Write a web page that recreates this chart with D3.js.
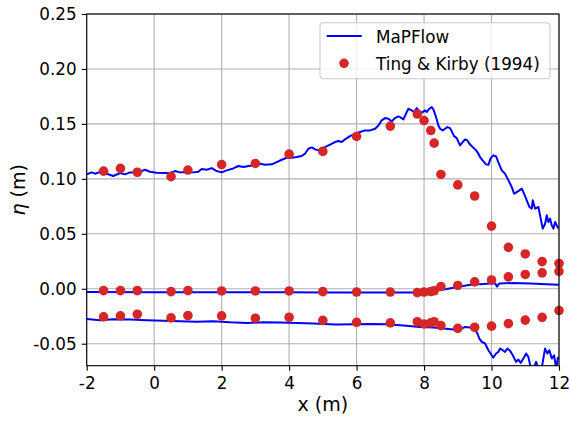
<!DOCTYPE html>
<html>
<head>
<meta charset="utf-8">
<script src="https://cdn.jsdelivr.net/npm/d3@7"></script>
<style>
  html, body { margin: 0; padding: 0; background: #fff; }
  svg { display: block; }
  text { font-family: "DejaVu Sans", sans-serif; fill: #000; }
</style>
</head>
<body>
<svg id="chart" width="570" height="423"></svg>
<script>
// Measurement stations along the flume (m)
const gaugeX = [-1.5, -1, -0.5, 0.5, 1, 2, 3, 4, 5, 6, 7, 7.8, 8.0, 8.2, 8.3, 8.5, 9, 9.5, 10, 10.5, 11, 11.5, 12];

// Ting & Kirby (1994): wave crest, mean water level and trough (m)
const expCrest  = [0.107, 0.1095, 0.106, 0.102, 0.108, 0.113, 0.114, 0.1225, 0.125, 0.1386, 0.148, 0.159, 0.153, 0.144, 0.1325, 0.104, 0.0945, 0.0844, 0.057, 0.0377, 0.0317, 0.0247, 0.023];
const expMean   = [-0.0017, -0.0017, -0.0017, -0.0026, -0.0017, -0.002, -0.002, -0.002, -0.0026, -0.003, -0.003, -0.0035, -0.003, -0.0025, -0.0018, 0.002, 0.003, 0.0063, 0.008, 0.0108, 0.013, 0.0145, 0.0158];
const expTrough = [-0.0256, -0.0247, -0.0232, -0.0265, -0.0244, -0.0247, -0.0268, -0.0259, -0.0288, -0.0305, -0.031, -0.030, -0.032, -0.031, -0.030, -0.0335, -0.036, -0.035, -0.034, -0.0317, -0.0285, -0.026, -0.0198];

// MaPFlow envelopes: [x (m), eta (m)]
const modelCrest = [
  [-2.00,0.1041],[-1.853,0.1059],[-1.754,0.1047],[-1.606,0.1062],[-1.408,0.1047],[-1.210,0.1026],[-1.013,0.1053],
  [-0.865,0.1041],[-0.716,0.1059],[-0.469,0.1059],[-0.272,0.1083],[-0.123,0.1065],[0.074,0.1056],[0.272,0.1053],
  [0.470,0.1053],[0.618,0.1071],[0.766,0.1059],[0.964,0.1062],[1.161,0.1059],[1.310,0.1065],[1.408,0.1089],
  [1.557,0.1083],[1.705,0.1098],[1.853,0.1071],[2.001,0.1059],[2.150,0.1077],[2.347,0.1095],[2.496,0.1117],
  [2.644,0.1108],[2.842,0.1120],[2.990,0.1123],[3.138,0.1138],[3.286,0.1129],[3.484,0.1132],[3.632,0.1153],
  [3.780,0.1174],[3.929,0.1192],[4.077,0.1192],[4.225,0.1198],[4.373,0.1208],[4.472,0.1229],[4.571,0.1274],
  [4.670,0.1286],[4.769,0.1268],[4.868,0.1259],[4.966,0.1280],[5.065,0.1289],[5.213,0.1311],[5.361,0.1335],
  [5.460,0.1344],[5.559,0.1335],[5.658,0.1359],[5.806,0.1389],[5.955,0.1411],[6.103,0.1426],[6.251,0.1441],
  [6.399,0.1441],[6.548,0.1456],[6.646,0.1486],[6.745,0.1532],[6.844,0.1553],[6.943,0.1547],[7.042,0.1523],
  [7.140,0.1553],[7.239,0.1568],[7.289,0.1562],[7.388,0.1541],[7.486,0.1608],[7.536,0.1638],[7.635,0.1623],
  [7.704,0.1608],[7.783,0.1644],[7.862,0.1614],[7.931,0.1602],[8.030,0.1623],[8.079,0.1608],[8.158,0.1638],
  [8.227,0.1653],[8.277,0.1632],[8.356,0.1562],[8.425,0.1486],[8.475,0.1456],[8.554,0.1441],[8.623,0.1456],
  [8.692,0.1471],[8.771,0.1462],[8.821,0.1432],[8.890,0.1389],[8.969,0.1371],[9.067,0.1305],[9.146,0.1335],
  [9.216,0.1359],[9.285,0.1350],[9.344,0.1320],[9.443,0.1289],[9.542,0.1259],[9.611,0.1229],[9.660,0.1198],
  [9.759,0.1159],[9.838,0.1132],[9.907,0.1127],[9.972,0.1186],[10.055,0.1214],[10.135,0.1205],[10.203,0.1150],
  [10.303,0.1077],[10.402,0.1047],[10.501,0.0986],[10.599,0.0926],[10.668,0.0865],[10.747,0.0880],[10.826,0.0895],
  [10.896,0.0911],[10.965,0.0865],[11.044,0.0805],[11.123,0.0744],[11.192,0.0729],[11.222,0.0805],[11.291,0.0729],
  [11.390,0.0744],[11.439,0.0668],[11.489,0.0592],[11.519,0.0547],[11.588,0.0592],[11.637,0.0668],[11.686,0.0608],
  [11.736,0.0638],[11.785,0.0577],[11.834,0.0547],[11.884,0.0608],[11.933,0.0577],[11.983,0.0547]
];

const modelMean = [
  [-2,-0.0030],[0,-0.0031],[2,-0.0031],[4,-0.0032],[5,-0.0033],[6,-0.0033],[7,-0.0034],[7.78,-0.0033],
  [8.18,-0.0025],[8.67,-0.0002],[9.07,0.0020],[9.46,0.0041],[9.53,0.0055],[9.56,0.0059],[9.62,0.0043],
  [9.66,0.0041],[10.05,0.0050],[10.12,0.0045],[10.16,0.0020],[10.22,0.0045],[10.25,0.0047],[10.65,0.0053],
  [11.14,0.0049],[11.64,0.0042],[12,0.0036]
];

const modelTrough = [
  [-2.0,-0.0274],[-1.606,-0.0286],[-1.211,-0.0277],[-0.716,-0.0280],[-0.221,-0.0286],[0.271,-0.0292],
  [0.766,-0.0295],[1.261,-0.0301],[1.753,-0.0295],[2.248,-0.0305],[2.744,-0.0311],[3.236,-0.0305],
  [3.731,-0.0308],[4.226,-0.0311],[4.718,-0.0317],[5.213,-0.0323],[5.412,-0.0326],[5.904,-0.0323],
  [6.399,-0.0320],[6.894,-0.0323],[7.386,-0.0335],[7.882,-0.0347],[8.276,-0.0353],[8.572,-0.0362],
  [8.869,-0.0371],[9.017,-0.0377],[9.216,-0.0347],[9.364,-0.0353],[9.512,-0.0371],[9.580,-0.0407],
  [9.640,-0.0453],[9.711,-0.0483],[9.809,-0.0498],[9.907,-0.0559],[10.007,-0.0605],[10.055,-0.0626],
  [10.135,-0.0589],[10.203,-0.0574],[10.253,-0.0544],[10.333,-0.0559],[10.401,-0.0574],[10.470,-0.0544],
  [10.550,-0.0565],[10.630,-0.0605],[10.728,-0.0665],[10.796,-0.0644],[10.867,-0.0674],[10.944,-0.0635],
  [11.024,-0.0589],[11.092,-0.0620],[11.164,-0.0720],[11.232,-0.0730],[11.321,-0.0665],[11.389,-0.0720],
  [11.489,-0.0720],[11.587,-0.0544],[11.656,-0.0589],[11.715,-0.0559],[11.786,-0.0635],[11.854,-0.0605],
  [11.914,-0.0720],[11.973,-0.0620]
];

// Axis ticks
const xTicks = [-2, 0, 2, 4, 6, 8, 10, 12];
const yTicks = [-0.05, 0.00, 0.05, 0.10, 0.15, 0.20, 0.25];
const seriesNames = ["MaPFlow", "Ting & Kirby (1994)"];

const width = 570, height = 423;
const margin = { left: 86.7, right: 570 - 559, top: 14, bottom: 423 - 365.7 };
const svg = d3.select("#chart");

const x = d3.scaleLinear().domain([-2, 12]).range([margin.left, width - margin.right]);
const y = d3.scaleLinear().domain([-0.07, 0.25]).range([height - margin.bottom, margin.top]);

const lineBlue = "#0000ff";
const dotRed = "#d62728";

// Grid
const grid = svg.append("g");
grid.selectAll("line.gx").data(xTicks).join("line")
  .attr("x1", d => x(d)).attr("x2", d => x(d))
  .attr("y1", y.range()[0]).attr("y2", y.range()[1])
  .attr("stroke", "#b0b0b0").attr("stroke-width", 1.1);
grid.selectAll("line.gy").data(yTicks).join("line")
  .attr("y1", d => y(d)).attr("y2", d => y(d))
  .attr("x1", x.range()[0]).attr("x2", x.range()[1])
  .attr("stroke", "#b0b0b0").attr("stroke-width", 1.1);

// Plot area clip
svg.append("clipPath").attr("id", "plotClip").append("rect")
  .attr("x", x.range()[0]).attr("y", y.range()[1])
  .attr("width", x.range()[1] - x.range()[0])
  .attr("height", y.range()[0] - y.range()[1]);

const line = d3.line().x(d => x(d[0])).y(d => y(d[1]));
const plot = svg.append("g").attr("clip-path", "url(#plotClip)");
[modelCrest, modelMean, modelTrough].forEach(s => {
  plot.append("path").datum(s).attr("d", line)
    .attr("fill", "none").attr("stroke", lineBlue)
    .attr("stroke-width", 2).attr("stroke-linejoin", "round");
});

// Measurements
const dots = svg.append("g");
[expCrest, expMean, expTrough].forEach(vals => {
  dots.selectAll(null).data(gaugeX.map((gx, i) => [gx, vals[i]])).join("circle")
    .attr("cx", d => x(d[0])).attr("cy", d => y(d[1]))
    .attr("r", 4.8).attr("fill", dotRed);
});

// Axes
const xAxis = svg.append("g").attr("transform", `translate(0,${y.range()[0]})`)
  .call(d3.axisBottom(x).tickValues(xTicks).tickFormat(d3.format("d")).tickSize(5).tickPadding(6).tickSizeOuter(0));
const yAxis = svg.append("g").attr("transform", `translate(${x.range()[0]},0)`)
  .call(d3.axisLeft(y).tickValues(yTicks).tickFormat(d3.format(".2f")).tickSize(5).tickPadding(5).tickSizeOuter(0));
[xAxis, yAxis].forEach(a => {
  a.select(".domain").remove();
  a.selectAll(".tick line").attr("stroke", "#000").attr("stroke-width", 1.1);
  a.selectAll(".tick text").attr("font-size", 16.8).attr("font-family", "DejaVu Sans").attr("fill", "#000");
});
xAxis.selectAll(".tick text").text(d => d < 0 ? "-" + Math.abs(d) : d);
yAxis.selectAll(".tick text").text(d => d < 0 ? "-" + d3.format(".2f")(Math.abs(d)) : d3.format(".2f")(d));

// Frame
svg.append("rect")
  .attr("x", x.range()[0]).attr("y", y.range()[1])
  .attr("width", x.range()[1] - x.range()[0])
  .attr("height", y.range()[0] - y.range()[1])
  .attr("fill", "none").attr("stroke", "#000").attr("stroke-width", 1.1);

// Axis titles
svg.append("text").attr("x", (x.range()[0] + x.range()[1]) / 2).attr("y", 411)
  .attr("text-anchor", "middle").attr("font-size", 19).text("x (m)");
const yl = svg.append("text")
  .attr("transform", `translate(25,${(y.range()[0] + y.range()[1]) / 2}) rotate(-90)`)
  .attr("text-anchor", "middle").attr("font-size", 19);
yl.append("tspan").attr("font-style", "italic").text("η");
yl.append("tspan").text(" (m)");

// Legend
const lg = svg.append("g");
lg.append("rect").attr("x", 320).attr("y", 22.7).attr("width", 230).attr("height", 56)
  .attr("rx", 3.5).attr("fill", "#fff").attr("fill-opacity", 0.8)
  .attr("stroke", "#cccccc").attr("stroke-width", 1.1);
lg.append("line").attr("x1", 326.7).attr("x2", 361.7).attr("y1", 36).attr("y2", 36)
  .attr("stroke", lineBlue).attr("stroke-width", 2);
lg.append("circle").attr("cx", 344).attr("cy", 63.3).attr("r", 4.8).attr("fill", dotRed);
lg.selectAll("text").data(seriesNames).join("text")
  .attr("x", 376).attr("y", (d, i) => 42.5 + i * 27.3)
  .attr("font-size", 16.8).text(d => d);
</script>
</body>
</html>
